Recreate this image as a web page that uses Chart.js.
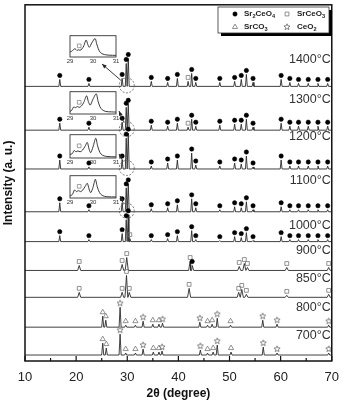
<!DOCTYPE html>
<html>
<head>
<meta charset="utf-8">
<script src="https://cdn.jsdelivr.net/npm/chart.js@4.4.1/dist/chart.umd.min.js"></script>
<style>
html, body { margin: 0; padding: 0; background: #fff; }
#wrap { position: relative; width: 348px; height: 400px; }
#wrap canvas { position: absolute; }
</style>
</head>
<body>
<div id="wrap">
    <canvas id="main" width="348" height="400" style="left:0;top:0"></canvas>
</div>
<script>
// =====================================
// DATA
// =====================================

const temps = ["1400°C", "1300°C", "1200°C", "1100°C", "1000°C", "900°C", "850°C", "800°C", "700°C"];

// stacking offset of every pattern (a. u.)
const offsets = [276, 232, 193, 150, 120, 91, 64, 34, 6];

const xTicks = [10, 20, 30, 40, 50, 60, 70];

// Sr2CeO4 reflections, shared by 1000-1400 °C patterns
const sr2Pos = [16.8, 22.5, 29.0, 29.8, 30.2, 34.7, 37.9, 39.8, 42.6, 43.4, 48.1, 51.0, 52.3, 53.3, 54.6, 60.1, 61.8, 63.5, 65.4, 67.3, 69.2];
const h1400 = [7, 3, 8, 23, 28, 5, 4, 8, 13, 4, 4, 5, 7, 12, 4, 7, 4, 3, 3, 3, 3];
const h1300 = [7, 3, 8, 23, 26, 5, 4, 7, 11, 4, 5, 6, 6, 11, 3, 7, 4, 4, 4, 4, 4];
const h1200 = [9, 2, 9, 31, 36, 3, 6, 9, 16, 4, 3, 6, 5, 13, 2, 9, 3, 3, 3, 3, 3];
const h1100 = [9, 2, 9, 24, 28, 3, 4, 7, 13, 4, 2, 5, 4, 10, 2, 5, 2, 2, 2, 2, 2];
const h1000 = [6, 2, 8, 22, 27, 2, 3, 6, 11, 2, 1, 5, 4, 9, 1, 5, 2, 2, 2, 2, 2];

// extra peaks [2theta, height, phase]
const x1400 = [[41.9, 5, "SC"]];
const x1300 = [[41.9, 3, "SC"]];
const x1000 = [[30.5, 3, "SC"]];

const p900 = [[20.6, 5, "SC"], [29.0, 6, "SC"], [29.9, 13, "SC"], [42.3, 9, "SC"], [42.7, 5, "S2"], [51.9, 4, "SC"], [52.9, 7, "SC"], [53.5, 3, "SC"], [61.2, 3, "SC"], [69.4, 3, "SC"]];
const p850 = [[20.6, 5, "SC"], [29.0, 5, "SC"], [29.85, 22, "SC"], [30.4, 5, "SC"], [42.1, 9, "SC"], [51.8, 5, "SC"], [52.4, 8, "SC"], [53.3, 3, "SC"], [61.2, 2, "SC"], [69.4, 3, "SC"]];
const p800 = [[25.2, 11, "CO"], [25.8, 7, "CO"], [28.6, 20, "Ce"], [29.7, 2, "CO"], [31.6, 2, "CO"], [33.1, 6, "Ce"], [35.0, 3, "CO"], [36.2, 3, "CO"], [36.9, 4, "Ce"], [44.2, 5, "Ce"], [45.7, 2, "CO"], [46.6, 3, "CO"], [47.6, 9, "Ce"], [50.2, 2, "CO"], [56.5, 7, "Ce"], [59.3, 3, "Ce"], [69.4, 2, "Ce"]];
const p700 = [[25.2, 12, "CO"], [25.9, 7, "CO"], [28.6, 21, "Ce"], [29.7, 2, "CO"], [31.6, 2, "CO"], [33.1, 6, "Ce"], [35.1, 3, "CO"], [36.2, 3, "CO"], [36.8, 4, "Ce"], [44.3, 5, "Ce"], [45.7, 2, "CO"], [46.8, 3, "CO"], [47.6, 10, "Ce"], [50.3, 3, "CO"], [56.6, 8, "Ce"], [59.3, 2, "Ce"], [69.4, 2, "Ce"]];

// insets: 29-31 deg zoom of the strongest reflections (normalised)
const insetTicks = [29, 30, 31];
const inset1400 = [[29.0, 0.25], [29.07, 0.28], [29.15, 0.36], [29.22, 0.41], [29.3, 0.32], [29.36, 0.36], [29.43, 0.33], [29.52, 0.4], [29.6, 0.55], [29.7, 0.84], [29.78, 0.6], [29.84, 0.48], [29.95, 0.7], [30.09, 0.91], [30.16, 0.65], [30.23, 0.41], [30.3, 0.25], [30.38, 0.17], [30.5, 0.12], [30.7, 0.09], [31.0, 0.08]];
const inset1300 = [[29.0, 0.12], [29.08, 0.18], [29.16, 0.33], [29.24, 0.3], [29.32, 0.35], [29.4, 0.31], [29.5, 0.38], [29.6, 0.55], [29.72, 0.86], [29.8, 0.58], [29.88, 0.42], [30.0, 0.7], [30.14, 0.95], [30.22, 0.6], [30.3, 0.35], [30.4, 0.2], [30.55, 0.12], [30.8, 0.1], [31.0, 0.09]];
const inset1200 = [[29.0, 0.16], [29.1, 0.2], [29.18, 0.34], [29.26, 0.28], [29.34, 0.32], [29.44, 0.28], [29.55, 0.36], [29.65, 0.52], [29.75, 0.7], [29.83, 0.4], [29.9, 0.24], [30.0, 0.5], [30.12, 0.89], [30.2, 0.55], [30.3, 0.25], [30.42, 0.12], [30.6, 0.07], [31.0, 0.05]];
const inset1100 = [[29.0, 0.1], [29.1, 0.16], [29.2, 0.38], [29.28, 0.3], [29.36, 0.35], [29.46, 0.3], [29.56, 0.38], [29.66, 0.55], [29.75, 0.69], [29.83, 0.42], [29.9, 0.25], [30.0, 0.5], [30.1, 0.88], [30.18, 0.55], [30.28, 0.26], [30.4, 0.12], [30.6, 0.06], [31.0, 0.05]];
const insetMarkX = 29.4;
const insetMarkY = 0.55;

// =====================================
// BUILD PATTERNS
// =====================================

function sr2(heights, extra) {
    return sr2Pos.map((p, i) => [p, heights[i], "S2"]).concat(extra);
}

const patterns = [
    sr2(h1400, x1400),
    sr2(h1300, x1300),
    sr2(h1200, []),
    sr2(h1100, []),
    sr2(h1000, x1000),
    p900, p850, p800, p700
];

const peakWidth = [0.18, 0.18, 0.18, 0.18, 0.18, 0.3, 0.3, 0.2, 0.2];

function tracePoints(peaks, off, w) {
    const pts = [{ x: 10, y: off }, { x: 70, y: off }];
    peaks.forEach(p => {
        pts.push({ x: p[0] - w, y: off });
        pts.push({ x: p[0], y: off + p[1] });
        pts.push({ x: p[0] + w, y: off });
    });
    return pts.sort((a, b) => a.x - b.x);
}

// =====================================
// MARKER STYLES
// =====================================

function makeStar(r, color) {
    const c = document.createElement("canvas");
    const s = Math.ceil(r * 2 + 3);
    c.width = s; c.height = s;
    const g = c.getContext("2d");
    g.beginPath();
    for (let i = 0; i < 10; i++) {
        const a = -Math.PI / 2 + i * Math.PI / 5;
        const rr = i % 2 ? r * 0.45 : r;
        g.lineTo(s / 2 + rr * Math.cos(a), s / 2 + rr * Math.sin(a));
    }
    g.closePath();
    g.strokeStyle = color;
    g.lineWidth = 0.8;
    g.stroke();
    return c;
}

const starImg = makeStar(3.2, "#666");

const phaseStyle = {
    S2: { pointStyle: "circle", radius: 2.2, bg: "#000", border: "#000", bw: 0.5 },
    SC: { pointStyle: "rect", radius: 2.7, bg: "rgba(0,0,0,0)", border: "#777", bw: 0.8 },
    CO: { pointStyle: "triangle", radius: 3, bg: "rgba(0,0,0,0)", border: "#777", bw: 0.8 },
    Ce: { pointStyle: starImg, radius: 3, bg: "rgba(0,0,0,0)", border: "#777", bw: 0.8 }
};

const markerGap = 4;

// =====================================
// DATASETS
// =====================================

const datasets = [];

patterns.forEach((peaks, i) => {
    datasets.push({
        type: "line",
        data: tracePoints(peaks, offsets[i], peakWidth[i]),
        borderColor: "#2b2b2b",
        borderWidth: 0.9,
        pointRadius: 0,
        tension: 0,
        order: 2
    });
});

Object.keys(phaseStyle).forEach(ph => {
    const st = phaseStyle[ph];
    const pts = [];
    patterns.forEach((peaks, i) => {
        peaks.forEach(p => {
            if (p[2] === ph) pts.push({ x: p[0], y: offsets[i] + p[1] + markerGap });
        });
    });
    datasets.push({
        type: "scatter",
        data: pts,
        pointStyle: st.pointStyle,
        pointRadius: st.radius,
        pointBackgroundColor: st.bg,
        pointBorderColor: st.border,
        pointBorderWidth: st.bw,
        order: 1
    });
});

// =====================================
// DECORATION PLUGIN
// =====================================

const labelRise = [27, 31, 33, 31, 16, 20, 19, 20, 20];
const circleRows = [0, 1, 2, 3];
const circleX = 29.9;

// inset boxes (pixels): left, top, width, height
const insetBoxes = [
    [70, 32, 46, 25],
    [70, 88, 46, 26],
    [70, 131, 46, 27],
    [70, 172, 46, 26]
];
const insetData = [inset1400, inset1300, inset1200, inset1100];
const arrowEnds = [[102, 64], [119, 111], [119, 154], [120, 196]];

function drawChem(ctx, parts, x, y, size) {
    parts.forEach(p => {
        const sub = p[1];
        ctx.font = `bold ${sub ? size * 0.7 : size}px "Liberation Sans", Arial, sans-serif`;
        ctx.fillText(p[0], x, sub ? y + size * 0.3 : y);
        x += ctx.measureText(p[0]).width;
    });
}

function arrow(ctx, x1, y1, x2, y2) {
    ctx.beginPath();
    ctx.moveTo(x1, y1);
    ctx.lineTo(x2, y2);
    ctx.stroke();
    const a = Math.atan2(y2 - y1, x2 - x1);
    ctx.beginPath();
    ctx.moveTo(x2, y2);
    ctx.lineTo(x2 - 5 * Math.cos(a - 0.4), y2 - 5 * Math.sin(a - 0.4));
    ctx.lineTo(x2 - 5 * Math.cos(a + 0.4), y2 - 5 * Math.sin(a + 0.4));
    ctx.closePath();
    ctx.fill();
}

const decor = {
    id: "decor",
    afterDraw(chart) {
        const ctx = chart.ctx;
        const ca = chart.chartArea;
        const xs = chart.scales.x;
        const ys = chart.scales.y;
        ctx.save();

        // frame
        ctx.strokeStyle = "#111";
        ctx.lineWidth = 1.5;
        ctx.strokeRect(ca.left, ca.top, ca.right - ca.left, ca.bottom - ca.top);

        // inward ticks
        ctx.lineWidth = 1.2;
        for (let v = 10; v <= 70; v += 5) {
            const px = xs.getPixelForValue(v);
            const len = v % 10 === 0 ? 5 : 3;
            ctx.beginPath();
            ctx.moveTo(px, ca.bottom);
            ctx.lineTo(px, ca.bottom - len);
            ctx.stroke();
        }

        // temperature labels
        ctx.fillStyle = "#333";
        ctx.font = '12.5px "Liberation Sans", Arial, sans-serif';
        ctx.textAlign = "right";
        ctx.textBaseline = "middle";
        temps.forEach((t, i) => {
            ctx.fillText(t, ca.right - 1, ys.getPixelForValue(offsets[i] + labelRise[i]));
        });

        // dashed circles + arrows to insets
        circleRows.forEach((r, k) => {
            const cx = xs.getPixelForValue(circleX);
            const cy = ys.getPixelForValue(offsets[r]) - 1;
            ctx.strokeStyle = "#555";
            ctx.lineWidth = 0.8;
            ctx.setLineDash([2, 1.5]);
            ctx.beginPath();
            ctx.arc(cx, cy, 7.5, 0, Math.PI * 2);
            ctx.stroke();
            ctx.setLineDash([]);
            ctx.strokeStyle = "#222";
            ctx.fillStyle = "#222";
            ctx.lineWidth = 0.9;
            const e = arrowEnds[k];
            const a = Math.atan2(e[1] - cy, e[0] - cx);
            arrow(ctx, cx + 8 * Math.cos(a), cy + 8 * Math.sin(a), e[0], e[1]);
        });

        // legend
        const lx = 218, ly = 7, lw = 111, lh = 26;
        ctx.fillStyle = "#000";
        ctx.fillRect(lx + 3, ly + 3, lw, lh);
        ctx.fillStyle = "#fff";
        ctx.fillRect(lx, ly, lw, lh);
        ctx.strokeStyle = "#333";
        ctx.lineWidth = 0.8;
        ctx.strokeRect(lx, ly, lw, lh);

        const legendRows = [
            ["S2", 235, 14, [["Sr", 0], ["2", 1], ["CeO", 0], ["4", 1]], 244],
            ["SC", 287, 14, [["SrCeO", 0], ["3", 1]], 297],
            ["CO", 235, 27, [["SrCO", 0], ["3", 1]], 244],
            ["Ce", 287, 27, [["CeO", 0], ["2", 1]], 297]
        ];
        legendRows.forEach(r => {
            const st = phaseStyle[r[0]];
            ctx.fillStyle = st.bg;
            ctx.strokeStyle = st.border;
            ctx.lineWidth = st.bw;
            Chart.helpers.drawPoint(ctx, { pointStyle: st.pointStyle, radius: st.radius, rotation: 0, borderWidth: st.bw }, r[1], r[2]);
            ctx.fillStyle = "#222";
            ctx.textAlign = "left";
            ctx.textBaseline = "middle";
            drawChem(ctx, r[3], r[4], r[2], 8);
        });

        ctx.restore();
    }
};

// =====================================
// MAIN CHART
// =====================================

const font = '"Liberation Sans", Arial, Helvetica, sans-serif';

new Chart(document.getElementById("main"), {
    data: { datasets: datasets },
    options: {
        responsive: false,
        animation: false,
        devicePixelRatio: 1,
        layout: { padding: { top: 3, right: 7, left: 0, bottom: 0 } },
        plugins: { legend: { display: false }, tooltip: { enabled: false } },
        scales: {
            x: {
                type: "linear",
                min: 10,
                max: 70,
                afterFit: s => { s.height = 39; },
                afterBuildTicks: s => { s.ticks = xTicks.map(v => ({ value: v })); },
                grid: { display: false, drawTicks: false },
                border: { display: false },
                ticks: { color: "#222", padding: 9, font: { family: font, size: 13 } },
                title: {
                    display: true,
                    text: "2θ (degree)",
                    color: "#111",
                    padding: { top: 0, bottom: 0 },
                    font: { family: font, size: 12, weight: "bold", lineHeight: 1 }
                }
            },
            y: {
                type: "linear",
                min: 0,
                max: 358,
                afterFit: s => { s.width = 25; },
                grid: { display: false, drawTicks: false },
                border: { display: false },
                ticks: { display: false },
                title: {
                    display: true,
                    text: "Intensity (a. u.)",
                    color: "#111",
                    padding: { top: 1, bottom: 0 },
                    font: { family: font, size: 12, weight: "bold" }
                }
            }
        }
    },
    plugins: [decor]
});

// =====================================
// INSETS
// =====================================

const insetFrame = {
    id: "insetFrame",
    afterDraw(chart) {
        const ca = chart.chartArea;
        chart.ctx.save();
        chart.ctx.strokeStyle = "#333";
        chart.ctx.lineWidth = 0.9;
        chart.ctx.strokeRect(ca.left, ca.top, ca.right - ca.left, ca.bottom - ca.top);
        chart.ctx.restore();
    }
};

insetBoxes.forEach((b, i) => {
    const cv = document.createElement("canvas");
    cv.width = b[2] + 16;
    cv.height = b[3] + 9;
    cv.style.left = (b[0] - 8) + "px";
    cv.style.top = (b[1] - 1) + "px";
    document.getElementById("wrap").appendChild(cv);

    new Chart(cv, {
        data: {
            datasets: [
                {
                    type: "line",
                    data: insetData[i].map(p => ({ x: p[0], y: p[1] })),
                    borderColor: "#222",
                    borderWidth: 0.9,
                    pointRadius: 0,
                    tension: 0.3
                },
                {
                    type: "scatter",
                    data: [{ x: insetMarkX, y: insetMarkY }],
                    pointStyle: "rect",
                    pointRadius: 2.6,
                    pointBackgroundColor: "rgba(0,0,0,0)",
                    pointBorderColor: "#777",
                    pointBorderWidth: 0.7
                }
            ]
        },
        options: {
            responsive: false,
            animation: false,
            devicePixelRatio: 1,
            layout: { padding: { top: 1, right: 8, left: 8, bottom: 0 } },
            plugins: { legend: { display: false }, tooltip: { enabled: false } },
            scales: {
                x: {
                    type: "linear",
                    min: 29,
                    max: 31,
                    afterFit: s => { s.height = 8; },
                    afterBuildTicks: s => { s.ticks = insetTicks.map(v => ({ value: v })); },
                    grid: { display: false, drawTicks: false },
                    border: { display: false },
                    ticks: { color: "#333", padding: 1, font: { family: font, size: 6 } }
                },
                y: { display: false, min: 0, max: 1.05 }
            }
        },
        plugins: [insetFrame]
    });
});
</script>
</body>
</html>
